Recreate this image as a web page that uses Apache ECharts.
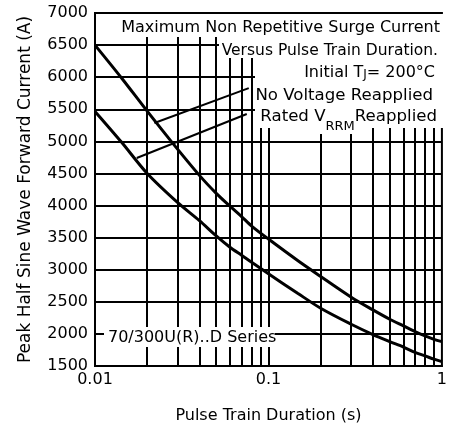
<!DOCTYPE html>
<html>
<head>
<meta charset="utf-8">
<script src="https://cdn.jsdelivr.net/npm/echarts@6/dist/echarts.min.js"></script>
<style>
html,body{margin:0;padding:0;background:#fff;}
#chart{width:450px;height:432px;}
</style>
</head>
<body>
<div id="chart"></div>
<script>
// Pulse train duration (s) and peak current (A)
const noVoltageX = [0.01, 0.0143, 0.02, 0.0275, 0.04, 0.05, 0.06, 0.07, 0.08, 0.1, 0.148, 0.2, 0.3, 0.4, 0.5, 0.6, 0.7, 0.8, 0.9, 1];
const noVoltageY = [6500, 5980, 5470, 5000, 4470, 4190, 3990, 3827, 3680, 3478, 3140, 2895, 2572, 2374, 2229, 2125, 2036, 1969, 1916, 1880];
const ratedX = [0.01, 0.0142, 0.02, 0.03, 0.04, 0.05, 0.06, 0.07, 0.08, 0.1, 0.148, 0.2, 0.3, 0.4, 0.5, 0.6, 0.7, 0.8, 0.9, 1];
const ratedY = [5467, 4990, 4500, 4045, 3765, 3527, 3350, 3225, 3115, 2937, 2630, 2400, 2150, 1990, 1880, 1795, 1712, 1657, 1606, 1569];
// leader lines from labels to curves
const leaderNoVoltage = [[0.022, 5287], [0.077, 5830]];
const leaderRated = [[0.0174, 4741], [0.075, 5427]];
// minor vertical grid values
const minorGridX = [0.02, 0.03, 0.04, 0.05, 0.06, 0.07, 0.08, 0.09, 0.1, 0.2, 0.3, 0.4, 0.5, 0.6, 0.7, 0.8, 0.9];
const xTickLabels = ['0.01', '0.1', '1'];
const yTickLabels = [1500, 2000, 2500, 3000, 3500, 4000, 4500, 5000, 5500, 6000, 6500, 7000];

const FONT = '"DejaVu Sans", sans-serif';
const zip = (xs, ys) => xs.map((x, i) => [x, ys[i]]);

const chart = echarts.init(document.getElementById('chart'), null, {renderer: 'canvas'});
const white = (x, y, w, h) => ({type: 'rect', shape: {x, y, width: w, height: h}, style: {fill: '#fff'}, z: 100, silent: true});
const txt = (x, y, text, align, rich, size) => ({type: 'text', x, y, z: 101, silent: true,
  style: {text, fill: '#000', font: (size || 16) + 'px ' + FONT, align, verticalAlign: 'middle', rich}});

chart.setOption({
  animation: false,
  backgroundColor: '#fff',
  grid: {left: 95, top: 13, width: 350, height: 353, show: true, borderColor: '#000', borderWidth: 2, backgroundColor: 'transparent'},
  xAxis: {
    type: 'log', logBase: 10, min: 0.01, max: 1,
    name: 'Pulse Train Duration (s)', nameLocation: 'middle', nameGap: 42,
    nameTextStyle: {color: '#000', fontSize: 16, fontFamily: FONT},
    axisLine: {show: true, lineStyle: {color: '#000', width: 2}},
    axisTick: {show: false},
    splitLine: {show: false},
    axisLabel: {color: '#000', fontSize: 16, fontFamily: FONT, margin: 6,
      formatter: v => { const s = xTickLabels.find(t => Math.abs(parseFloat(t) - v) < 1e-9); return s || ''; }}
  },
  yAxis: {
    type: 'value', min: 1500, max: 7000, interval: 500,
    name: 'Peak Half Sine Wave Forward Current (A)', nameLocation: 'middle', nameGap: 61,
    nameTextStyle: {color: '#000', fontSize: 17, fontFamily: FONT},
    axisLine: {show: true, lineStyle: {color: '#000', width: 2}},
    axisTick: {show: false},
    splitLine: {show: true, lineStyle: {color: '#000', width: 2}},
    axisLabel: {color: '#000', fontSize: 16, fontFamily: FONT, margin: 7,
      formatter: v => yTickLabels.includes(v) ? String(v) : ''}
  },
  series: [
    {type: 'line', name: 'grid', data: [], silent: true,
      markLine: {silent: true, symbol: ['none', 'none'], label: {show: false},
        lineStyle: {color: '#000', width: 2, type: 'solid'},
        data: minorGridX.map(v => ({xAxis: v}))}},
    {type: 'line', name: 'No Voltage Reapplied', data: zip(noVoltageX, noVoltageY), smooth: 0.3,
      showSymbol: false, lineStyle: {color: '#000', width: 3}, z: 5},
    {type: 'line', name: 'Rated VRRM Reapplied', data: zip(ratedX, ratedY), smooth: 0.3,
      showSymbol: false, lineStyle: {color: '#000', width: 3}, z: 5},
    {type: 'line', data: leaderNoVoltage, showSymbol: false, lineStyle: {color: '#000', width: 2}, z: 5},
    {type: 'line', data: leaderRated, showSymbol: false, lineStyle: {color: '#000', width: 2}, z: 5}
  ],
  graphic: [
    white(96, 14, 347, 23),
    white(219, 37, 224, 21),
    white(255, 58, 188, 70),
    white(318, 128, 40, 6),
    white(104, 327, 171, 20),
    txt(440, 28, 'Maximum Non Repetitive Surge Current', 'right'),
    txt(438, 51, 'Versus Pulse Train Duration.', 'right', null, 15.5),
    txt(435, 71, '{m|Initial T}{s|J}{m|= 200°C}', 'right', {
      m: {fontSize: 16, fontFamily: FONT, lineHeight: 20, fill: '#000', verticalAlign: 'bottom'},
      s: {fontSize: 12, fontFamily: FONT, lineHeight: 12, fill: '#000', verticalAlign: 'bottom'}}),
    txt(433, 96, 'No Voltage Reapplied', 'right', null, 16.6),
    txt(437, 117, '{m|Rated V}{s|RRM}{m|Reapplied}', 'right', {
      m: {fontSize: 16.6, fontFamily: FONT, lineHeight: 32, fill: '#000', verticalAlign: 'middle'},
      s: {fontSize: 13, fontFamily: FONT, lineHeight: 13, fill: '#000', verticalAlign: 'bottom'}}),
    txt(108, 338, '70/300U(R)..D Series', 'left')
  ]
});
</script>
</body>
</html>
